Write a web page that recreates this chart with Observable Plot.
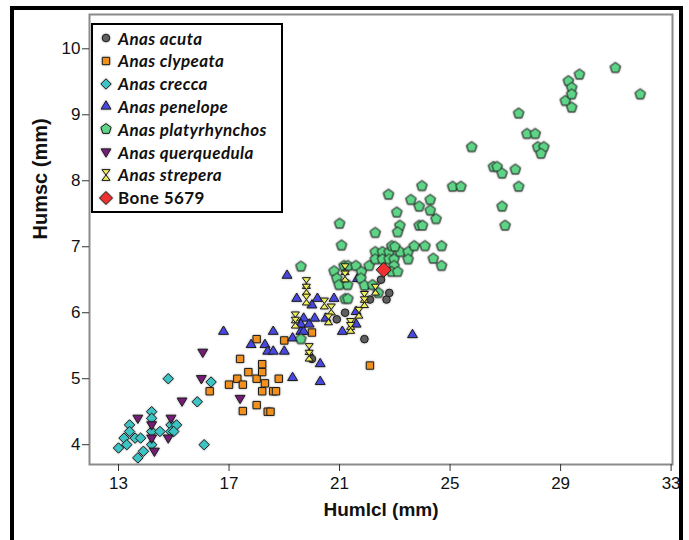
<!DOCTYPE html>
<html>
<head>
<meta charset="utf-8">
<script src="https://cdn.jsdelivr.net/npm/d3@7"></script>
<script src="https://cdn.jsdelivr.net/npm/@observablehq/plot@0.6"></script>
<style>
  html, body { margin: 0; padding: 0; background: #fff; }
  #wrap { position: relative; width: 689px; height: 540px; overflow: hidden; }
  #border { position: absolute; left: 10px; top: 6px; width: 665px; height: 600px; border: 4px solid #000; pointer-events: none; }
  #legend { position: absolute; left: 91px; top: 23px; width: 188px; height: 186px; border: 2px solid #000; background: #fff; }
  .item { position: absolute; left: 0; height: 20px; display: flex; align-items: center; font-family: Lato, "Open Sans", sans-serif; font-size: 17px; font-weight: 700; letter-spacing: 0.4px; color: #111; white-space: nowrap; }
  .item svg { margin-left: 6px; margin-right: 5px; overflow: visible; }
  .item span.it { font-style: italic; }
  svg g[aria-label="dot"] { filter: drop-shadow(0 0 1px rgba(0,0,0,0.35)); }
</style>
</head>
<body>
<div id="wrap"></div>
<script>
// ---- data (HumIcl mm, Humsc mm) ----
const acuta = [[20.0,5.3],[20.9,5.9],[21.2,6.0],[21.9,5.6],[22.1,6.2],[22.5,6.5],[22.7,6.2],[22.8,6.3]];
const clypeata = [[16.3,4.81],[17.0,4.91],[17.3,5.0],[17.4,5.3],[17.5,4.91],[17.5,4.51],[17.7,5.1],[18.0,5.6],[18.0,5.0],[18.0,4.6],[18.2,5.22],[18.2,5.1],[18.2,4.81],[18.3,4.93],[18.4,4.5],[18.5,4.5],[18.6,4.81],[18.7,4.81],[18.8,5.0],[19.0,5.58],[20.0,5.7],[22.1,5.2]];
const crecca = [[13.0,3.95],[13.2,4.1],[13.3,4.0],[13.4,4.3],[13.4,4.2],[13.6,4.1],[13.8,4.1],[13.7,3.8],[13.9,3.9],[14.2,4.5],[14.2,4.4],[14.2,4.2],[14.2,4.0],[14.5,4.2],[14.9,4.3],[14.9,4.2],[15.1,4.3],[15.0,4.2],[14.8,5.0],[15.85,4.65],[16.35,4.95],[16.1,4.0]];
const penelope = [[16.8,5.72],[17.8,5.52],[18.3,5.52],[18.4,5.42],[18.6,5.42],[18.6,5.72],[19.0,5.42],[19.1,6.57],[19.3,5.62],[19.3,5.02],[19.45,6.22],[19.6,5.72],[19.7,5.72],[19.7,5.92],[19.6,5.83],[19.9,5.83],[20.0,6.12],[20.1,5.92],[20.2,6.22],[20.3,5.23],[20.3,4.96],[20.5,5.92],[20.8,6.22],[21.1,5.72],[21.6,5.83],[21.6,6.02],[21.65,6.52],[23.64,5.67]];
const platyrhynchos = [[19.6,6.7],[19.6,5.6],[20.8,6.63],[20.9,6.52],[20.98,6.42],[21.29,6.42],[21.0,7.35],[21.07,7.02],[21.16,6.71],[21.3,6.71],[21.2,6.21],[21.3,6.21],[21.59,6.71],[22.07,6.71],[21.79,6.62],[21.77,6.52],[21.9,6.41],[22.19,6.42],[22.29,7.21],[22.29,6.92],[22.55,6.92],[22.79,6.92],[23.19,6.92],[23.48,6.92],[22.29,6.81],[22.55,6.81],[22.79,6.81],[22.97,6.81],[23.48,6.81],[22.89,7.01],[23.0,7.0],[22.97,6.71],[22.88,6.62],[23.1,6.62],[22.4,6.3],[22.77,7.79],[23.07,7.52],[23.18,7.32],[23.1,7.22],[23.7,7.01],[24.09,7.01],[24.69,7.01],[24.39,6.82],[24.69,6.71],[23.58,7.71],[23.88,7.61],[23.98,7.92],[23.88,7.32],[24.0,7.32],[24.28,7.71],[24.28,7.55],[24.49,7.42],[25.09,7.91],[25.39,7.91],[25.78,8.51],[26.57,8.21],[26.7,8.21],[26.88,8.11],[27.36,8.17],[27.48,7.91],[26.88,7.61],[26.99,7.32],[27.48,9.02],[27.78,8.71],[28.08,8.71],[28.17,8.51],[28.39,8.51],[28.29,8.41],[29.17,9.21],[29.28,9.51],[29.4,9.41],[29.4,9.31],[29.4,9.11],[29.68,9.61],[30.98,9.71],[31.88,9.31]];
const querquedula = [[13.7,4.4],[14.2,4.3],[14.2,4.1],[14.3,3.9],[14.8,4.1],[14.9,4.4],[15.3,4.66],[16.0,5.0],[16.05,5.4],[17.4,4.7]];
const strepera = [[19.8,6.45],[19.8,6.35],[19.8,6.2],[19.4,5.93],[19.4,5.85],[20.45,6.14],[20.7,6.05],[20.6,5.9],[19.9,5.45],[19.9,5.35],[21.4,5.83],[21.4,5.77],[21.7,6.0],[21.9,6.24],[21.9,6.16],[22.3,6.35],[21.2,6.66],[21.2,6.55]];
const bone5679 = [[22.6,6.65]];

const xTicks = [13, 17, 21, 25, 29, 33];
const yTicks = [4, 5, 6, 7, 8, 9, 10];

// ---- custom symbols ----
const rad = size => Math.sqrt(size / Math.PI);
const poly = (ctx, pts) => { ctx.moveTo(pts[0][0], pts[0][1]); for (let i = 1; i < pts.length; i++) ctx.lineTo(pts[i][0], pts[i][1]); ctx.closePath(); };
const pentagon = { draw(ctx, size) { const r = rad(size); poly(ctx, d3.range(5).map(k => { const a = -Math.PI / 2 + k * 2 * Math.PI / 5; return [r * Math.cos(a), r * Math.sin(a)]; })); } };
const triDown = { draw(ctx, size) { const r = rad(size); poly(ctx, [[0, r], [-r * 0.95, -r * 0.6], [r * 0.95, -r * 0.6]]); } };
const triUp = { draw(ctx, size) { const r = rad(size); poly(ctx, [[0, -r], [-r * 0.95, r * 0.6], [r * 0.95, r * 0.6]]); } };
const hourglass = { draw(ctx, size) { const r = rad(size); const w = r * 0.75, h = r; poly(ctx, [[-w, -h], [w, -h], [0, 0], [w, h], [-w, h], [0, 0]]); } };
const diamond = { draw(ctx, size) { const r = rad(size); poly(ctx, [[0, -r], [r, 0], [0, r], [-r, 0]]); } };
const square = { draw(ctx, size) { const r = rad(size) * 0.8; poly(ctx, [[-r, -r], [r, -r], [r, r], [-r, r]]); } };
const circle = { draw(ctx, size) { const r = rad(size); ctx.moveTo(r, 0); ctx.arc(0, 0, r, 0, 2 * Math.PI); } };

const series = [
  { name: "Anas acuta", italic: true, data: acuta, symbol: circle, fill: "#5f5f5f", r: 3.8 },
  { name: "Anas clypeata", italic: true, data: clypeata, symbol: square, fill: "#f2901e", r: 4.6 },
  { name: "Anas crecca", italic: true, data: crecca, symbol: diamond, fill: "#3cc4c4", r: 5.2 },
  { name: "Anas penelope", italic: true, data: penelope, symbol: triUp, fill: "#4848e0", r: 5.2 },
  { name: "Anas platyrhynchos", italic: true, data: platyrhynchos, symbol: pentagon, fill: "#5ed486", r: 5.4 },
  { name: "Anas querquedula", italic: true, data: querquedula, symbol: triDown, fill: "#761c76", r: 5.2 },
  { name: "Anas strepera", italic: true, data: strepera, symbol: hourglass, fill: "#eeee5a", r: 5.4 },
  { name: "Bone 5679", italic: false, data: bone5679, symbol: diamond, fill: "#ee3030", r: 7.5 }
];

const chart = Plot.plot({
  width: 689,
  height: 540,
  marginLeft: 89,
  marginRight: 17,
  marginTop: 14,
  marginBottom: 76,
  style: { fontFamily: "'Liberation Sans', Arimo, Arial, sans-serif", fontSize: "17px", color: "#111", background: "transparent" },
  x: { domain: [11.95, 33.05] },
  y: { domain: [3.7, 10.52] },
  marks: [
    Plot.frame({ stroke: "#8a8a8a", strokeWidth: 2 }),
    Plot.axisX({ ticks: xTicks, tickFormat: d => String(d), tickSize: 7, tickPadding: 5, fontSize: 17, label: null, stroke: "#333", fontFamily: "'Liberation Sans', Arial, sans-serif" }),
    Plot.axisY({ ticks: yTicks, tickFormat: d => String(d), tickSize: 7, tickPadding: 2, fontSize: 17, label: null, stroke: "#333", fontFamily: "'Liberation Sans', Arial, sans-serif" }),
    ...series.map(s => Plot.dot(s.data, {
      x: d => d[0], y: d => d[1], symbol: s.symbol, r: s.r,
      fill: s.fill, stroke: "#1a1a1a", strokeWidth: 1, fillOpacity: 1
    })),
    Plot.text(["Humlcl (mm)"], { frameAnchor: "bottom", dy: 51, text: d => d, fontWeight: "bold", fontSize: 19, fill: "#111", fontFamily: "'Liberation Sans', Arial, sans-serif" }),
    Plot.text(["Humsc (mm)"], { frameAnchor: "left", dx: -49, rotate: -90, text: d => d, fontWeight: "bold", fontSize: 20, fill: "#111", fontFamily: "'Liberation Sans', Arial, sans-serif" })
  ]
});

const wrap = document.getElementById("wrap");
wrap.appendChild(chart);
const border = document.createElement("div");
border.id = "border";
wrap.appendChild(border);

// legend
const legend = document.createElement("div");
legend.id = "legend";
series.forEach((s, i) => {
  const item = document.createElement("div");
  item.className = "item";
  item.style.top = (3 + i * 22.8) + "px";
  const size = (i === 7 ? 6.5 : s.r);
  const path = d3.symbol().type(s.symbol).size(size * size * Math.PI)();
  const ns = "http://www.w3.org/2000/svg";
  const svg = document.createElementNS(ns, "svg");
  svg.setAttribute("width", 14); svg.setAttribute("height", 14);
  svg.setAttribute("viewBox", "-7 -7 14 14");
  svg.style.filter = "drop-shadow(0 0 1px rgba(0,0,0,0.35))";
  const p = document.createElementNS(ns, "path");
  p.setAttribute("d", path); p.setAttribute("fill", s.fill); p.setAttribute("stroke", "#1a1a1a"); p.setAttribute("stroke-width", 1);
  svg.appendChild(p);
  item.appendChild(svg);
  const t = document.createElement("span");
  t.textContent = s.name;
  if (s.italic) t.className = "it";
  item.appendChild(t);
  legend.appendChild(item);
});
wrap.appendChild(legend);
</script>
</body>
</html>
